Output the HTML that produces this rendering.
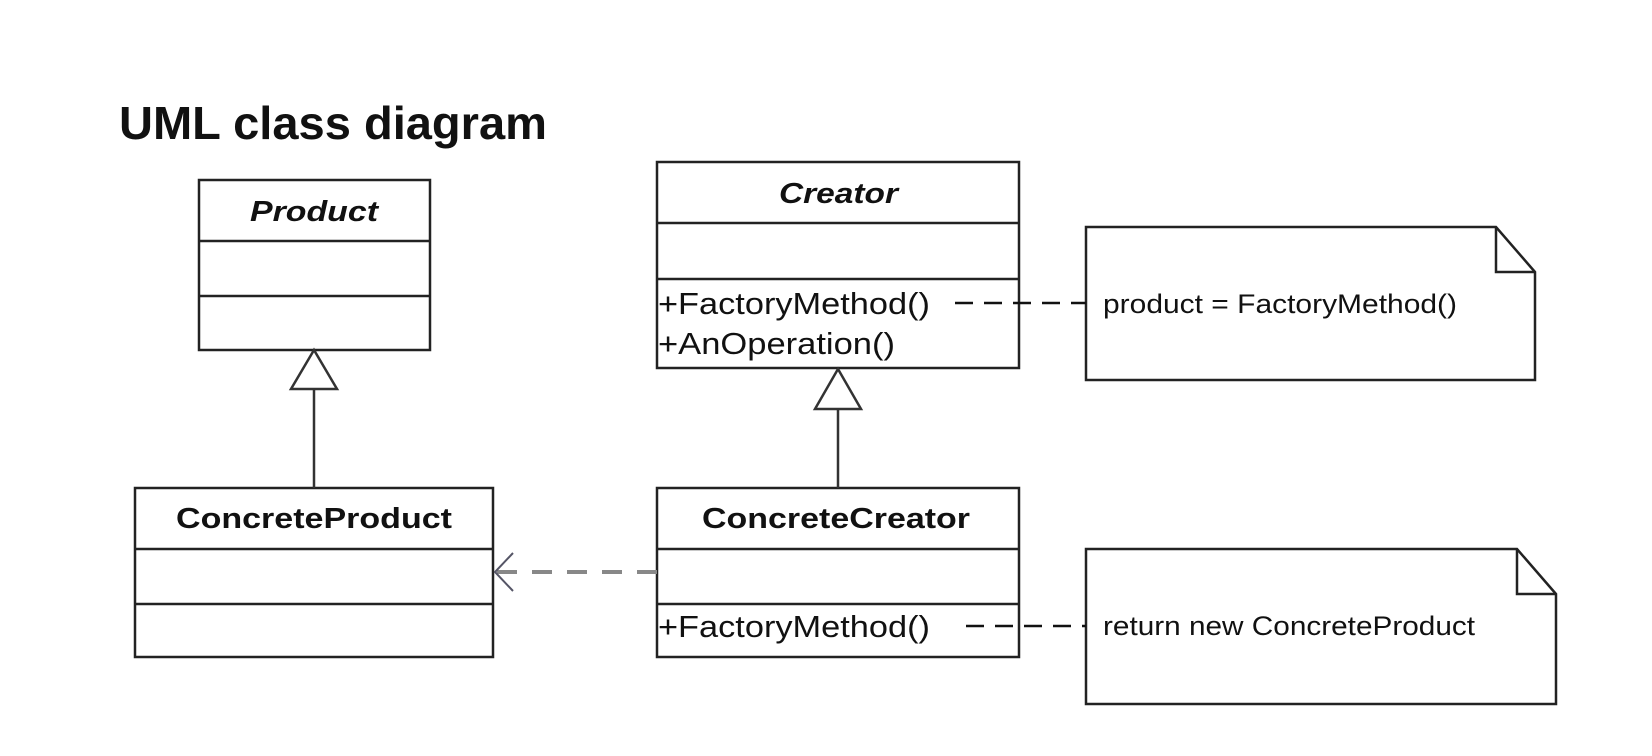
<!DOCTYPE html>
<html><head><style>
html,body{margin:0;padding:0;background:#fff;}
svg{display:block;}
text{font-family:"Liberation Sans",Arial,sans-serif;fill:#111;}
</style></head><body>
<svg width="1652" height="756" viewBox="0 0 1652 756" xmlns="http://www.w3.org/2000/svg">
<text x="119" y="139" font-size="46" font-weight="bold" textLength="428" lengthAdjust="spacingAndGlyphs" fill="#000">UML class diagram</text>

<g fill="none" stroke="#222" stroke-width="2.5">
  <rect x="199" y="180" width="231" height="170"/>
  <line x1="199" y1="241" x2="430" y2="241"/>
  <line x1="199" y1="296" x2="430" y2="296"/>
  <rect x="657" y="162" width="362" height="206"/>
  <line x1="657" y1="223" x2="1019" y2="223"/>
  <line x1="657" y1="279" x2="1019" y2="279"/>
  <rect x="135" y="488" width="358" height="169"/>
  <line x1="135" y1="549" x2="493" y2="549"/>
  <line x1="135" y1="604" x2="493" y2="604"/>
  <rect x="657" y="488" width="362" height="169"/>
  <line x1="657" y1="549" x2="1019" y2="549"/>
  <line x1="657" y1="604" x2="1019" y2="604"/>
  <path d="M1086 227 H1496 L1535 272 V380 H1086 Z"/>
  <path d="M1496 227 V272 H1535"/>
  <path d="M1086 549 H1517 L1556 594 V704 H1086 Z"/>
  <path d="M1517 549 V594 H1556"/>
</g>

<g fill="#fff" stroke="#333" stroke-width="2.5">
  <line x1="314" y1="389" x2="314" y2="488"/>
  <path d="M314 350 L291 389 H337 Z"/>
  <line x1="838" y1="409" x2="838" y2="488"/>
  <path d="M838 369 L815 409 H861 Z"/>
</g>

<line x1="657" y1="572" x2="496" y2="572" stroke="#888" stroke-width="4" stroke-dasharray="20 15"/>
<path d="M513 553 L495 572 L513 591" fill="none" stroke="#556" stroke-width="2"/>

<g stroke="#111" stroke-width="2.5" stroke-dasharray="18 11">
  <line x1="955" y1="303" x2="1086" y2="303"/>
  <line x1="966" y1="626" x2="1086" y2="626"/>
</g>

<g font-weight="bold" fill="#222">
  <text x="250" y="221" font-size="29" font-style="italic" textLength="128" lengthAdjust="spacingAndGlyphs">Product</text>
  <text x="779" y="203" font-size="29" font-style="italic" textLength="119" lengthAdjust="spacingAndGlyphs">Creator</text>
  <text x="176" y="528" font-size="29" textLength="276" lengthAdjust="spacingAndGlyphs">ConcreteProduct</text>
  <text x="702" y="528" font-size="29" textLength="268" lengthAdjust="spacingAndGlyphs">ConcreteCreator</text>
</g>
<g fill="#222">
  <text x="658" y="314" font-size="31" textLength="272" lengthAdjust="spacingAndGlyphs">+FactoryMethod()</text>
  <text x="658" y="354" font-size="31" textLength="237" lengthAdjust="spacingAndGlyphs">+AnOperation()</text>
  <text x="658" y="637" font-size="31" textLength="272" lengthAdjust="spacingAndGlyphs">+FactoryMethod()</text>
  <text x="1103" y="313" font-size="27" textLength="354" lengthAdjust="spacingAndGlyphs">product = FactoryMethod()</text>
  <text x="1103" y="635" font-size="27" textLength="372" lengthAdjust="spacingAndGlyphs">return new ConcreteProduct</text>
</g>
</svg>
</body></html>
